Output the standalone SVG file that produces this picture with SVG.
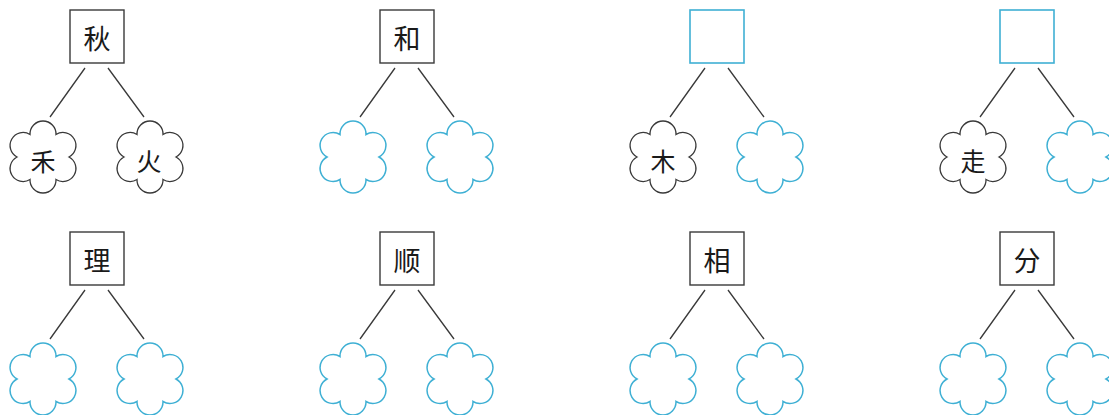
<svg xmlns="http://www.w3.org/2000/svg" xmlns:xlink="http://www.w3.org/1999/xlink" width="1109" height="415" viewBox="0 0 1109 415">
<style>
.box{fill:#fff;stroke:#3a3a3a;stroke-width:1.4}
.box.blue{stroke:#3fb0d4;stroke-width:1.6}
.cloud{fill:#fff;stroke:#3a3a3a;stroke-width:1.3}
.cloud.blue{stroke:#3fb0d4;stroke-width:1.5}
.edge{stroke:#3a3a3a;stroke-width:1.3;fill:none}
.t{font-family:"Noto Sans CJK SC","Noto Sans CJK JP",sans-serif;fill:#1a1a1a;text-anchor:middle;dominant-baseline:central}
.tb{font-size:27px}
.tc{font-size:25px}
</style>
<defs>
<path id="cl" d="M-12.99,-22.5 A13,13 0 1 1 12.99,-22.5 A13,13 0 1 1 25.98,0 A13,13 0 1 1 12.99,22.5 A13,13 0 1 1 -12.99,22.5 A13,13 0 1 1 -25.98,0 A13,13 0 1 1 -12.99,-22.5 Z"/>
</defs>
<rect width="1109" height="415" fill="#fff"/>
<g id="connectors">
<path class="edge" d="M85,68L50,117M108,68L144,117"/>
<path class="edge" d="M395,68L360,117M418,68L454,117"/>
<path class="edge" d="M705,68L670,117M728,68L764,117"/>
<path class="edge" d="M1015,68L980,117M1038,68L1074,117"/>
<path class="edge" d="M85,290L50,339M108,290L144,339"/>
<path class="edge" d="M395,290L360,339M418,290L454,339"/>
<path class="edge" d="M705,290L670,339M728,290L764,339"/>
<path class="edge" d="M1015,290L980,339M1038,290L1074,339"/>
</g>
<!-- row 1 -->
<g id="n-qiu"><rect class="box" x="70" y="10" width="54" height="53"/><text class="t tb" x="97" y="37">秋</text></g>
<g id="n-he1"><use href="#cl" class="cloud" transform="translate(43,157)"/><text class="t tc" x="43" y="160">禾</text></g>
<g id="n-huo"><use href="#cl" class="cloud" transform="translate(150,157)"/><text class="t tc" x="149" y="160">火</text></g>

<g id="n-he"><rect class="box" x="380" y="10" width="54" height="53"/><text class="t tb" x="407" y="37">和</text></g>
<g id="n-he-l"><use href="#cl" class="cloud blue" transform="translate(353,157)"/></g>
<g id="n-he-r"><use href="#cl" class="cloud blue" transform="translate(460,157)"/></g>

<g id="n-b3"><rect class="box blue" x="690" y="10" width="54" height="53"/></g>
<g id="n-mu"><use href="#cl" class="cloud" transform="translate(663,157)"/><text class="t tc" x="663" y="160">木</text></g>
<g id="n-b3-r"><use href="#cl" class="cloud blue" transform="translate(770,157)"/></g>

<g id="n-b4"><rect class="box blue" x="1000" y="10" width="54" height="53"/></g>
<g id="n-zou"><use href="#cl" class="cloud" transform="translate(973,157)"/><text class="t tc" x="973" y="160">走</text></g>
<g id="n-b4-r"><use href="#cl" class="cloud blue" transform="translate(1080,157)"/></g>
<!-- row 2 -->
<g id="n-li"><rect class="box" x="70" y="232" width="54" height="53"/><text class="t tb" x="97" y="259">理</text></g>
<g id="n-li-l"><use href="#cl" class="cloud blue" transform="translate(43,379)"/></g>
<g id="n-li-r"><use href="#cl" class="cloud blue" transform="translate(150,379)"/></g>

<g id="n-shun"><rect class="box" x="380" y="232" width="54" height="53"/><text class="t tb" x="407" y="259">顺</text></g>
<g id="n-shun-l"><use href="#cl" class="cloud blue" transform="translate(353,379)"/></g>
<g id="n-shun-r"><use href="#cl" class="cloud blue" transform="translate(460,379)"/></g>

<g id="n-xiang"><rect class="box" x="690" y="232" width="54" height="53"/><text class="t tb" x="717" y="259">相</text></g>
<g id="n-xiang-l"><use href="#cl" class="cloud blue" transform="translate(663,379)"/></g>
<g id="n-xiang-r"><use href="#cl" class="cloud blue" transform="translate(770,379)"/></g>

<g id="n-fen"><rect class="box" x="1000" y="232" width="54" height="53"/><text class="t tb" x="1027" y="259">分</text></g>
<g id="n-fen-l"><use href="#cl" class="cloud blue" transform="translate(973,379)"/></g>
<g id="n-fen-r"><use href="#cl" class="cloud blue" transform="translate(1080,379)"/></g>
</svg>
